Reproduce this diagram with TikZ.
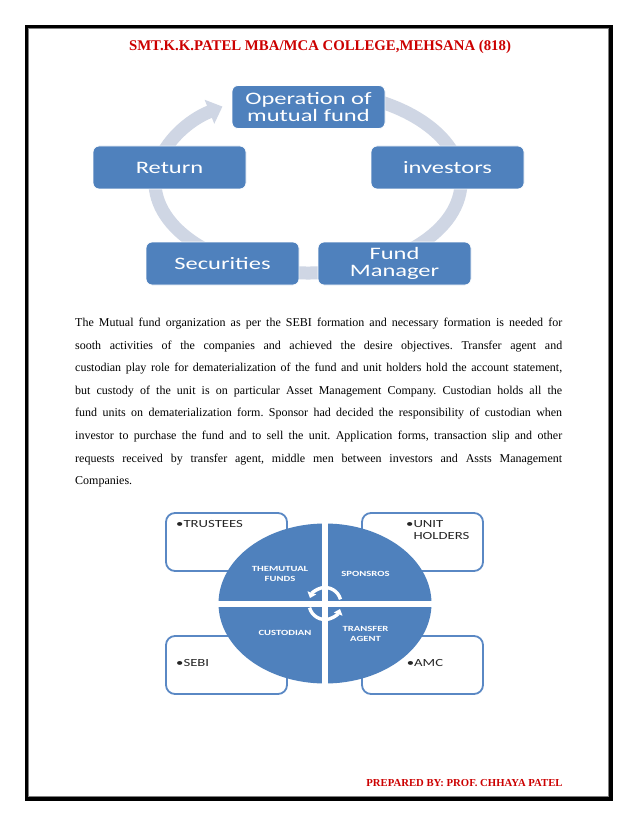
\documentclass[tikz,border=0pt]{standalone}
\usepackage{fontspec}
\setmainfont{Liberation Serif}
\newfontfamily\cyclefont[FakeStretch=1.4]{Carlito}
\newfontfamily\quadfont[FakeStretch=1.35]{Carlito}
\usetikzlibrary{shapes.geometric,arrows.meta}
\definecolor{ofblue}{RGB}{79,129,189}
\definecolor{ringgray}{RGB}{207,214,228}
\definecolor{titlered}{RGB}{204,0,0}
\definecolor{edgeblue}{RGB}{90,136,196}
\newcommand\jl[1]{\hbox to 487pt{#1}}
\tikzset{
  cyclebox/.style={rectangle, rounded corners=6pt, fill=ofblue, draw=white, line width=0.8pt,
    minimum width=153pt, minimum height=43pt, inner sep=0pt, text=white, align=center,
    font=\cyclefont\fontsize{17.5}{17}\selectfont},
  outbox/.style={rectangle, rounded corners=9pt, draw=edgeblue, line width=1.8pt, fill=white,
    minimum width=121pt, minimum height=58pt, inner sep=0pt},
  outlabel/.style={anchor=base west, inner sep=0pt, align=left, text=black!85,
    font=\quadfont\fontsize{10.9}{12}\selectfont},
  quadlabel/.style={inner sep=0pt, align=center, text=white,
    font=\quadfont\bfseries\fontsize{7.9}{10}\selectfont},
  redtext/.style={text=titlered, inner sep=0pt, anchor=base}
}
\begin{document}
\begin{tikzpicture}[x=1pt,y=-1pt]
\useasboundingbox (0,0) rectangle (638,826);
\fill[white] (0,0) rectangle (638,826);
% page frame
\draw[line width=3.4pt] (26.7,26.7) rectangle (610.8,798.8);
\draw[gray, line width=1pt] (28.9,28.9) rectangle (608.5,796.5);
% title and footer
\node[redtext, font=\bfseries\fontsize{14.8}{16}\selectfont] (title) at (320,51) {SMT.K.K.PATEL MBA/MCA COLLEGE,MEHSANA (818)};
\node[redtext, font=\bfseries\fontsize{10.7}{12}\selectfont] (footer) at (464.5,786) {PREPARED BY: PROF. CHHAYA PATEL};
% cycle ring
\coordinate (ringc) at (308,182);
\draw[ringgray, line width=13pt, -{Triangle[length=14pt,width=25pt]}]
  ([shift={(-80:153 and 91)}]ringc) arc[start angle=-80, end angle=236, x radius=153, y radius=91];
% cycle boxes
\node[cyclebox] (op) at (308.5,107) {Operation of\\mutual fund};
\node[cyclebox] (inv) at (447.5,167.5) {investors};
\node[cyclebox] (fm) at (394.5,263.5) {Fund\\Manager};
\node[cyclebox] (sec) at (222.5,263.5) {Securities};
\node[cyclebox] (ret) at (169.5,167.5) {Return};
% body text
\node[anchor=north west, inner sep=0pt, font=\fontsize{12}{22.6}\selectfont\frenchspacing] (body) at (75,317.8) {\vbox{%
\jl{The Mutual fund organization as per the SEBI formation and necessary formation is needed for}%
\jl{sooth activities of the companies and achieved the desire objectives. Transfer agent and}%
\jl{custodian play role for dematerialization of the fund and unit holders hold the account statement,}%
\jl{but custody of the unit is on particular Asset Management Company. Custodian holds all the}%
\jl{fund units on dematerialization form. Sponsor had decided the responsibility of custodian when}%
\jl{investor to purchase the fund and to sell the unit. Application forms, transaction slip and other}%
\jl{requests received by transfer agent, middle men between investors and Assts Management}%
\hbox{Companies.}}};
% second diagram: outer boxes
\node[outbox] (trustees) at (226.5,542) {};
\node[outbox] (unith) at (422.5,542) {};
\node[outbox] (sebi) at (226.5,665) {};
\node[outbox] (amc) at (422.5,665) {};
\node[outlabel] (ltrustees) at (183.3,527.5) {\llap{•}TRUSTEES};
\node[outlabel] (lunith) at (413.3,539.5) {\llap{•}UNIT\\HOLDERS};
\node[outlabel] (lsebi) at (183.3,666.5) {\llap{•}SEBI};
\node[outlabel] (lamc) at (414,666.5) {\llap{•}AMC};
% hub
\node[ellipse, fill=ofblue, minimum width=213pt, minimum height=160pt, inner sep=0pt] (hub) at (325,603.5) {};
\draw[white, line width=6.5pt] (hub.north) -- (hub.south);
\draw[white, line width=6pt] (hub.west) -- (hub.east);
\draw[white, line width=3.4pt, -{Triangle[length=5.5pt,width=9pt]}]
  ([shift={(-15:16)}]hub.center) arc[start angle=-15, end angle=-160, radius=16];
\draw[white, line width=3.4pt, -{Triangle[length=5.5pt,width=9pt]}]
  ([shift={(165:16)}]hub.center) arc[start angle=165, end angle=20, radius=16];
\node[quadlabel] (qmf) at (280,573.5) {THEMUTUAL\\FUNDS};
\node[quadlabel] (qsp) at (365.5,573.5) {SPONSROS};
\node[quadlabel] (qcu) at (285,633) {CUSTODIAN};
\node[quadlabel] (qta) at (365.5,633.5) {TRANSFER\\AGENT};
\end{tikzpicture}
\end{document}
